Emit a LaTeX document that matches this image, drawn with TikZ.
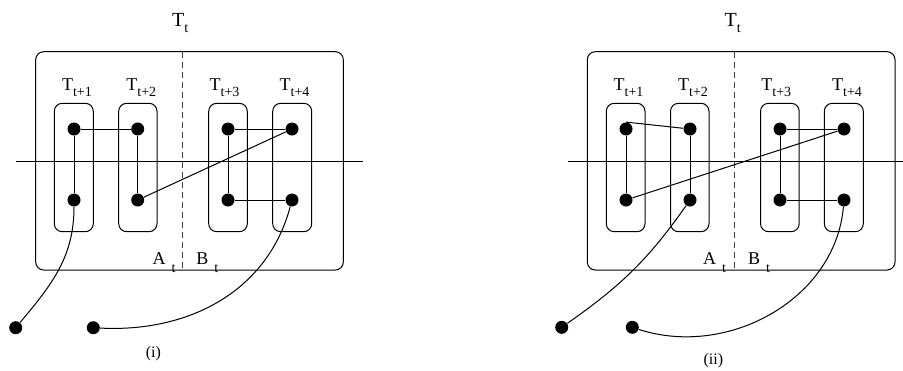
\documentclass[tikz,border=0pt]{standalone}
\usepackage{fontspec}
\setmainfont{Liberation Serif}
\newcommand{\lowsub}[1]{\raisebox{-3pt}{\fontsize{7}{8}\selectfont #1}}
\newcommand{\gapsub}[1]{\hspace{3pt}\raisebox{-4pt}{\fontsize{7}{8}\selectfont #1}}

\begin{document}
\begin{tikzpicture}[x=0.5pt,y=-0.5pt,
  dot/.style={circle,fill,inner sep=0pt,minimum size=6.5pt},
  box/.style={rounded corners=4pt,line width=0.5pt},
  cut/.style={line width=0.5pt,dash pattern=on 3pt off 2pt,black!75},
  link/.style={line width=0.5pt},
  lbl/.style={anchor=base west,inner sep=0pt,font=\fontsize{9}{11}\selectfont},
  captext/.style={inner sep=0pt,font=\fontsize{8}{10}\selectfont}]
  \useasboundingbox (0,0) rectangle (903,370);

  % panel (i)
  \draw[box] (35.7,51.7) rectangle (343.3,270);
  \draw[box] (54.3,103.3) rectangle (93.3,231.7);
  \draw[box] (118.7,103.3) rectangle (157,231.7);
  \draw[box] (208.7,103.3) rectangle (247.3,231.7);
  \draw[box] (272.7,103.3) rectangle (311.7,231.7);
  \draw[cut] (182.7,51.7) -- (182.7,270);
  \draw[link] (16,161.3) -- (362.7,161.3);
  \node[lbl,font=\fontsize{10}{12}\selectfont] (lT) at (171.7,26) {T\lowsub{t}};
  \node[lbl] (lT1) at (61.7,90.7) {T\lowsub{t+1}};
  \node[lbl] (lT2) at (126,90.7) {T\lowsub{t+2}};
  \node[lbl] (lT3) at (209.3,90.7) {T\lowsub{t+3}};
  \node[lbl] (lT4) at (279.3,90.7) {T\lowsub{t+4}};
  \node[lbl] (lA) at (152.3,264.3) {A\gapsub{t}};
  \node[lbl] (lB) at (196,264.3) {B\gapsub{t}};
  \node[captext] (lcap) at (153.3,354) {(i)};
  \node[dot] (l1t) at (74,129) {};
  \node[dot] (l1b) at (74,200) {};
  \node[dot] (l2t) at (137.7,129) {};
  \node[dot] (l2b) at (137.7,200) {};
  \node[dot] (l3t) at (228,129) {};
  \node[dot] (l3b) at (228,200) {};
  \node[dot] (l4t) at (292,129) {};
  \node[dot] (l4b) at (292,200) {};
  \node[dot] (lo1) at (15.7,327.7) {};
  \node[dot] (lo2) at (93.3,327.7) {};
  \draw[link] (l1t) -- (l2t);
  \draw[link] (l1t) -- (l1b);
  \draw[link] (l2t) -- (l2b);
  \draw[link] (l2b) -- (l4t);
  \draw[link] (l3t) -- (l4t);
  \draw[link] (l3t) -- (l3b);
  \draw[link] (l3b) -- (l4b);
  \draw[link] (l1b) to[out=-90,in=50] (lo1);
  \draw[link] (l4b) to[out=-105,in=-3] (lo2);

  % panel (ii)
  \draw[box] (587.3,51.7) rectangle (895,270);
  \draw[box] (606.3,103.3) rectangle (645,231.7);
  \draw[box] (670.5,103.3) rectangle (709,231.7);
  \draw[box] (760.5,103.3) rectangle (799.2,231.7);
  \draw[box] (824.3,103.3) rectangle (863.3,231.7);
  \draw[cut] (734.3,51.7) -- (734.3,270);
  \draw[link] (568.3,161.3) -- (903,161.3);
  \node[lbl,font=\fontsize{10}{12}\selectfont] (rT) at (724.3,26) {T\lowsub{t}};
  \node[lbl] (rT1) at (613.3,90.7) {T\lowsub{t+1}};
  \node[lbl] (rT2) at (677.7,90.7) {T\lowsub{t+2}};
  \node[lbl] (rT3) at (761,90.7) {T\lowsub{t+3}};
  \node[lbl] (rT4) at (831.7,90.7) {T\lowsub{t+4}};
  \node[lbl] (rA) at (702.7,264.3) {A\gapsub{t}};
  \node[lbl] (rB) at (747.7,264.3) {B\gapsub{t}};
  \node[captext] (rcap) at (713.3,361) {(ii)};
  \node[dot] (r1t) at (626,129) {};
  \node[dot] (r1b) at (626,200) {};
  \node[dot] (r2t) at (690,129) {};
  \node[dot] (r2b) at (690,200) {};
  \node[dot] (r3t) at (780,129) {};
  \node[dot] (r3b) at (780,200) {};
  \node[dot] (r4t) at (844,129) {};
  \node[dot] (r4b) at (844,200) {};
  \node[dot] (ro1) at (561.7,327.3) {};
  \node[dot] (ro2) at (632.3,327.3) {};
  \draw[link] (r1t.north) -- (r2t);
  \draw[link] (r1t) -- (r1b);
  \draw[link] (r2t) -- (r2b);
  \draw[link] (r1b) -- (r4t);
  \draw[link] (r3t) -- (r4t);
  \draw[link] (r3t) -- (r3b);
  \draw[link] (r3b) -- (r4b);
  \draw[link] (r2b) to[out=-125,in=35] (ro1);
  \draw[link] (r4b) to[out=-95,in=-18] (ro2);
\end{tikzpicture}
\end{document}
